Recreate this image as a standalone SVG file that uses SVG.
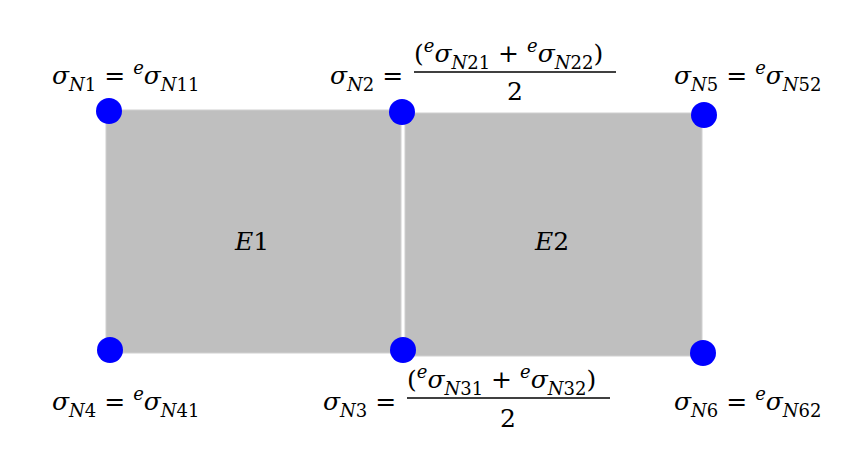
<svg xmlns="http://www.w3.org/2000/svg" width="860" height="459" viewBox="0 0 860 459">
<style>
.el{fill:#bfbfbf;stroke:#d0d0d0;stroke-width:1}
.nd{fill:#0000ff}
text{font-family:"DejaVu Serif",serif;font-size:25px;fill:#000}
.i{font-style:italic}
.s{font-size:18px;font-style:italic}
.u{font-size:18px;font-style:italic}
.n{font-style:normal}
</style>
<rect width="860" height="459" fill="#fff"/>
<g id="E1"><rect class="el" x="106" y="110" width="295" height="243"/><text x="235" y="250" class="i">E<tspan class="n">1</tspan></text></g>
<g id="E2"><rect class="el" x="405" y="113" width="297" height="243"/><text x="535" y="250" class="i">E<tspan class="n">2</tspan></text></g>
<g id="connectors"></g>
<g id="N1"><circle class="nd" cx="109" cy="111" r="13"/>
<text x="52" y="84"><tspan class="i">σ</tspan><tspan class="s" dy="7">N</tspan><tspan font-size="18" dy="0">1</tspan><tspan dy="-7"> = </tspan><tspan class="u" dy="-10">e</tspan><tspan class="i" dy="10">σ</tspan><tspan class="s" dy="7">N</tspan><tspan font-size="18">11</tspan></text></g>
<g id="N2"><circle class="nd" cx="402" cy="112" r="13"/>
<text x="330" y="84"><tspan class="i">σ</tspan><tspan class="s" dy="7">N</tspan><tspan font-size="18">2</tspan><tspan dy="-7"> =</tspan></text>
<text x="414" y="62">(<tspan class="u" dy="-10">e</tspan><tspan class="i" dy="10">σ</tspan><tspan class="s" dy="7">N</tspan><tspan font-size="18">21</tspan><tspan dy="-7"> + </tspan><tspan class="u" dy="-10">e</tspan><tspan class="i" dy="10">σ</tspan><tspan class="s" dy="7">N</tspan><tspan font-size="18">22</tspan><tspan dy="-7">)</tspan></text>
<line x1="414" y1="72" x2="616" y2="72" stroke="#000" stroke-width="1.5"/>
<text x="515" y="100" text-anchor="middle">2</text></g>
<g id="N5"><circle class="nd" cx="704" cy="115" r="13"/>
<text x="674" y="84"><tspan class="i">σ</tspan><tspan class="s" dy="7">N</tspan><tspan font-size="18">5</tspan><tspan dy="-7"> = </tspan><tspan class="u" dy="-10">e</tspan><tspan class="i" dy="10">σ</tspan><tspan class="s" dy="7">N</tspan><tspan font-size="18">52</tspan></text></g>
<g id="N4"><circle class="nd" cx="110" cy="350" r="13"/>
<text x="52" y="410"><tspan class="i">σ</tspan><tspan class="s" dy="7">N</tspan><tspan font-size="18">4</tspan><tspan dy="-7"> = </tspan><tspan class="u" dy="-10">e</tspan><tspan class="i" dy="10">σ</tspan><tspan class="s" dy="7">N</tspan><tspan font-size="18">41</tspan></text></g>
<g id="N3"><circle class="nd" cx="403" cy="350" r="13"/>
<text x="323" y="410"><tspan class="i">σ</tspan><tspan class="s" dy="7">N</tspan><tspan font-size="18">3</tspan><tspan dy="-7"> =</tspan></text>
<text x="407" y="388">(<tspan class="u" dy="-10">e</tspan><tspan class="i" dy="10">σ</tspan><tspan class="s" dy="7">N</tspan><tspan font-size="18">31</tspan><tspan dy="-7"> + </tspan><tspan class="u" dy="-10">e</tspan><tspan class="i" dy="10">σ</tspan><tspan class="s" dy="7">N</tspan><tspan font-size="18">32</tspan><tspan dy="-7">)</tspan></text>
<line x1="407" y1="398" x2="610" y2="398" stroke="#000" stroke-width="1.5"/>
<text x="508" y="427" text-anchor="middle">2</text></g>
<g id="N6"><circle class="nd" cx="703" cy="353" r="13"/>
<text x="674" y="410"><tspan class="i">σ</tspan><tspan class="s" dy="7">N</tspan><tspan font-size="18">6</tspan><tspan dy="-7"> = </tspan><tspan class="u" dy="-10">e</tspan><tspan class="i" dy="10">σ</tspan><tspan class="s" dy="7">N</tspan><tspan font-size="18">62</tspan></text></g>
</svg>
